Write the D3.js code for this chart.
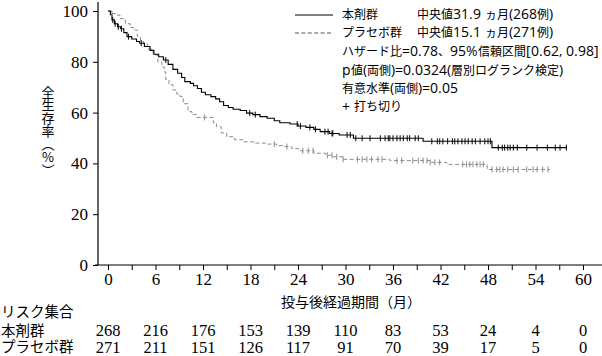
<!DOCTYPE html>
<html><head><meta charset="utf-8">
<script src="https://cdn.jsdelivr.net/npm/d3@7"></script>
<style>
@font-face{font-family:"LatinW";src:local("Open Sans"),local("Open Sans Regular"),local("OpenSans-Regular");unicode-range:U+0020-00FF;size-adjust:115%;}
body{margin:0;background:#fff;}
svg{display:block;}
.jp{font-family:"Noto Sans CJK JP","Noto Sans",sans-serif;}
.lgd{font-family:"LatinW","Noto Sans CJK JP","Noto Sans",sans-serif;}
.num{font-family:"Liberation Serif","DejaVu Serif",serif;}
</style></head>
<body><svg id="c" width="602" height="356"></svg>
<script>
// ---- data ----
const groups = ["本剤群", "プラセボ群"];
const medians = ["中央値31.9 ヵ月(268例)", "中央値15.1 ヵ月(271例)"];
const statsLines = ["ハザード比=0.78、95%信頼区間[0.62, 0.98]", "p値(両側)=0.0324(層別ログランク検定)", "有意水準(両側)=0.05", "+ 打ち切り"];
// KM step knots: [month, survival %]
const treatTimes = [0,0.3,0.5,0.8,1.2,1.6,2.0,2.4,3.0,3.6,4.0,4.6,5.3,5.8,6.4,7.0,7.6,8.2,8.8,9.3,9.7,10.4,10.8,11.3,11.8,12.3,13.0,13.6,14.1,14.6,15.2,15.8,16.7,17.5,18.3,19.2,20.1,21.0,21.7,23.0,24.0,25.0,26.0,26.8,28.0,29.2,31.0,39.8,48.5,57.9];
const treatSurv  = [100,98.5,96.5,95,93.8,93,91.5,89.9,89,88,87.3,86,84.5,83,82,80.7,79,77,75.5,73.8,72.2,71.5,70.6,69.5,68,67,66.3,65.4,64.3,62.8,62,61.3,60.8,59.8,59.2,58.4,57.8,56.8,56,55.5,54.7,54.2,53.4,52.5,51.8,51.2,49.9,48.7,46.2,46.2];
const placTimes = [0,0.4,0.9,1.5,2.2,2.8,3.2,3.7,4.1,4.5,5.0,5.7,6.3,6.8,7.1,7.3,7.7,8.2,8.7,9.1,9.5,10.1,10.6,11.2,13.3,13.7,14.3,15.0,16.0,17.1,18.5,20.1,21.3,22.1,23.2,24.3,26.0,27.5,28.4,29.7,35.6,40.7,42.8,47.9,55.8];
const placSurv  = [100,99,98.4,97,95,93.5,92.5,90,88,87,85,82.7,80,78,76,73,71,68.9,67.3,66.3,63.5,60.4,59.2,58.1,56,54.4,52,50.5,49.3,48.5,48,47.6,47,46.6,45.8,45,44,43.2,42.6,41.6,41.1,40.4,39.6,37.6,37.6];
const treatCensor = [0.6,0.9,1.3,1.7,2.6,4.2,7.3,17.9,18.6,23.9,24.3,25.5,26.2,27.4,27.8,28.3,28.4,30.2,30.6,31.3,32.1,33.1,34.4,35.0,35.4,35.6,36.0,36.5,36.9,37.3,37.8,38.1,38.8,39.2,40.9,41.6,41.9,42.3,42.9,43.5,43.8,44.2,44.7,45.1,45.5,46.0,46.4,47.0,47.6,48.0,48.3,49.3,49.8,50.1,50.5,50.8,51.2,51.7,52.9,54.2,55.5,56.5,57.1,57.9];
const placCensor = [0.5,12.2,21.0,22.6,24.6,25.3,25.9,27.7,28.3,28.9,29.7,31.5,32.1,32.7,33.3,34.1,34.6,36.5,37.1,38.5,39.2,39.8,40.3,40.7,41.3,41.9,44.8,45.3,45.7,46.1,46.6,47.0,47.4,48.5,49.1,49.5,49.9,50.5,51.2,51.8,52.9,53.7,54.2,54.9,55.6];
const xTicks = [0,3,6,9,12,15,18,21,24,27,30,33,36,39,42,45,48,51,54,57,60];
const yTicks = [0,20,40,60,80,100];
const riskTimes = [0,6,12,18,24,30,36,42,48,54,60];
const riskTreat = [268,216,176,153,139,110,83,53,24,4,0];
const riskPlac  = [271,211,151,126,117,91,70,39,17,5,0];
const riskTitle = "リスク集合";
const xTitle = "投与後経過期間（月）";
const yTitle = "全生存率（%）";

// ---- drawing ----
const svg = d3.select("#c");
const x = d3.scaleLinear().domain([0,60]).range([108,583]);
const y = d3.scaleLinear().domain([0,100]).range([265,11]);
const black = "#000", gray = "#8c8c8c";

// axes
const xAx = svg.append("g").attr("transform",`translate(0,${y(0)})`)
  .call(d3.axisBottom(x).tickValues(xTicks).tickSize(5).tickSizeOuter(0)
        .tickFormat(d => d % 6 === 0 ? d : ""));
xAx.select(".domain").remove();
xAx.append("line").attr("x1",95).attr("x2",602).attr("stroke","#000").attr("stroke-width",1.2);
xAx.selectAll(".tick line").attr("stroke","#000");
xAx.selectAll(".tick text").attr("class","num").attr("font-size",17).attr("fill","#000").attr("dy","0.72em").attr("y",8);

const yAx = svg.append("g").attr("transform",`translate(98,0)`)
  .call(d3.axisLeft(y).tickValues(yTicks).tickSize(5).tickSizeOuter(0));
yAx.select(".domain").remove();
yAx.append("line").attr("y1",y(0)).attr("y2",2).attr("stroke","#000").attr("stroke-width",1.2);
yAx.selectAll(".tick text").attr("class","num").attr("font-size",17).attr("fill","#000").attr("x",-10);

// curves
const line = d3.line().x(d=>x(d[0])).y(d=>y(d[1])).curve(d3.curveStepAfter);
const tData = treatTimes.map((t,i)=>[t,treatSurv[i]]);
const pData = placTimes.map((t,i)=>[t,placSurv[i]]);
function survAt(data,t){ let v=data[0][1]; for(const d of data){ if(d[0]<=t) v=d[1]; } return v; }

svg.append("path").datum(pData).attr("d",line).attr("fill","none").attr("stroke",gray).attr("stroke-width",1).attr("stroke-dasharray","4,2.5");
svg.append("path").datum(tData).attr("d",line).attr("fill","none").attr("stroke",black).attr("stroke-width",1.1);

svg.append("g").selectAll("line").data(placCensor).join("line")
  .attr("x1",d=>x(d)).attr("x2",d=>x(d)).attr("y1",d=>y(survAt(pData,d))-3).attr("y2",d=>y(survAt(pData,d))+3)
  .attr("stroke",gray).attr("stroke-width",1);
svg.append("g").selectAll("line").data(treatCensor).join("line")
  .attr("x1",d=>x(d)).attr("x2",d=>x(d)).attr("y1",d=>y(survAt(tData,d))-3).attr("y2",d=>y(survAt(tData,d))+3)
  .attr("stroke",black).attr("stroke-width",1);

// legend
const lg = svg.append("g").attr("class","lgd").attr("font-size",12).attr("fill","#000");
const legY = [15,33];
lg.append("line").attr("x1",295).attr("x2",333).attr("y1",legY[0]).attr("y2",legY[0]).attr("stroke",black).attr("stroke-width",1);
lg.append("line").attr("x1",295).attr("x2",333).attr("y1",legY[1]).attr("y2",legY[1]).attr("stroke","#555").attr("stroke-width",1).attr("stroke-dasharray","4,2.4");
groups.forEach((g,i)=>{
  lg.append("text").attr("x",342).attr("y",legY[i]).attr("dy","0.36em").text(g);
  lg.append("text").attr("x",417).attr("y",legY[i]).attr("dy","0.36em").text(medians[i]);
});
statsLines.forEach((s,i)=>{
  lg.append("text").attr("x",342).attr("y",52+i*18.3).attr("dy","0.36em").text(s);
});

// axis titles
svg.append("text").attr("class","jp").attr("x",351).attr("y",302).attr("dy","0.36em")
  .attr("text-anchor","middle").attr("font-size",14).text(xTitle);
svg.append("text").attr("class","jp").attr("x",48).attr("y",131)
  .attr("text-anchor","middle").attr("font-size",13)
  .style("writing-mode","vertical-rl").style("text-orientation","upright").text(yTitle);

// risk table
svg.append("text").attr("class","jp").attr("x",1).attr("y",312).attr("dy","0.36em").attr("font-size",14.5).text(riskTitle);
[[groups[0],riskTreat,330.5],[groups[1],riskPlac,347]].forEach(([name,vals,yy])=>{
  svg.append("text").attr("class","jp").attr("x",1).attr("y",yy).attr("dy","0.36em").attr("font-size",14.5).text(name);
  svg.append("g").selectAll("text").data(vals).join("text").attr("class","num")
    .attr("x",(d,i)=>x(riskTimes[i])).attr("y",yy).attr("dy","0.36em").attr("text-anchor","middle")
    .attr("font-size",16.5).text(d=>d);
});
</script></body></html>
